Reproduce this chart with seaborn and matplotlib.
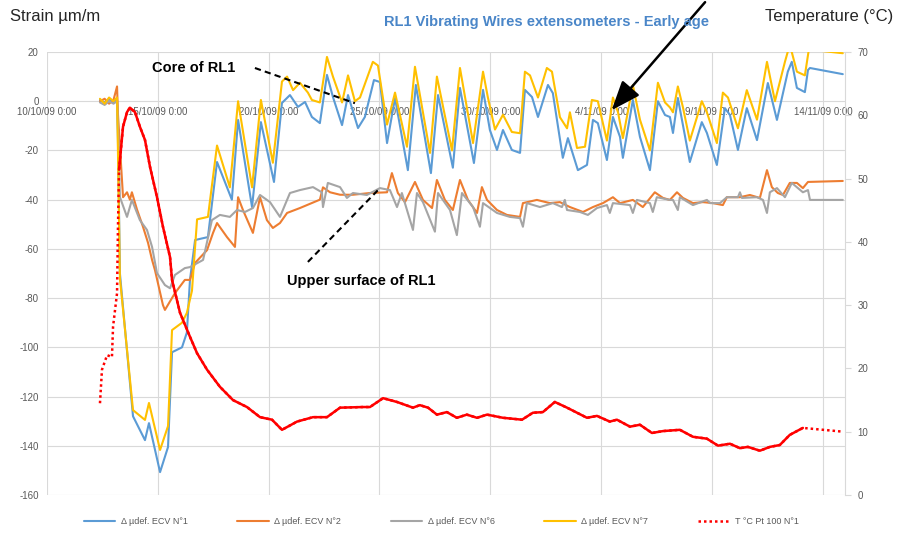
import matplotlib
matplotlib.use("Agg")
import matplotlib.dates as mdates
import matplotlib.pyplot as plt
import numpy as np
import pandas as pd
import seaborn as sns
from matplotlib.ticker import FuncFormatter

START = pd.Timestamp("2009-10-10")

# (days since 10/10/09 0:00, strain in um/m)
ecv1 = [(2.39, 0.5), (2.6, -0.5), (2.8, 0.8), (3.0, -0.5), (3.16, 0.5), (3.2, -15), (3.29, -70),
        (3.88, -128), (4.42, -137.7), (4.60, -130.8), (5.10, -150.7), (5.46, -140.5), (5.64, -102),
        (6.09, -100), (6.31, -94), (6.45, -72.6), (6.68, -56.4), (7.26, -55.2), (7.67, -24.7),
        (8.34, -40), (8.62, -7.6), (9.25, -43), (9.65, -8.5), (10.24, -32.8), (10.60, -0.7),
        (10.96, 2.5), (11.32, -2.3), (11.64, -0.3), (11.95, -6.4), (12.31, -8.9), (12.63, 10.7),
        (12.90, 1.7), (13.31, -9.7), (13.58, 2.5), (14.03, -10.9), (14.34, -6.4), (14.75, 8.6),
        (15.02, 7.8), (15.34, -17), (15.70, 1.3), (16.28, -28), (16.64, 6.6), (17.32, -29.2),
        (17.64, 2.5), (18.31, -27), (18.63, 5.4), (19.26, -25.1), (19.67, 4.6), (19.98, -11.7),
        (20.30, -19.8), (20.57, -11.7), (20.97, -19.8), (21.34, -21), (21.56, 4.6), (21.88, 1.7),
        (22.15, -6.4), (22.60, 6.6), (22.82, 3.3), (23.27, -23), (23.50, -15), (23.95, -28),
        (24.36, -25.9), (24.63, -7.6), (24.85, -8.9), (25.26, -23.9), (25.53, -6.4), (25.85, -14.5),
        (25.98, -23), (26.43, 0.5), (26.75, -14.5), (27.20, -28), (27.56, 0), (27.88, -5.6),
        (28.10, -6.4), (28.24, -12.9), (28.46, 1.3), (29.00, -24.7), (29.54, -8.5), (29.77, -12.9),
        (30.22, -25.9), (30.58, -2.8), (30.81, -5.6), (31.17, -19.8), (31.57, -2.8), (32.03, -15.8),
        (32.52, 7.4), (32.93, -7.6), (33.42, 12), (33.60, 16), (33.83, 5.4), (34.19, 3.7),
        (34.33, 12.7), (34.42, 13.5), (35.90, 11)]

ecv2 = [(2.39, 0), (2.6, 1), (2.8, -1), (3.0, 0.5), (3.16, 6), (3.20, -5), (3.43, -39), (3.61, -37),
        (3.74, -40), (3.83, -37), (4.06, -44), (4.33, -51), (4.56, -57.6), (4.74, -64.5), (4.87, -68.6),
        (5.23, -82.8), (5.32, -84.8), (5.77, -78), (6.22, -72.6), (6.45, -72.6), (6.68, -65.7),
        (7.22, -60.5), (7.49, -53.5), (7.67, -49.5), (8.12, -55.2), (8.48, -59.2), (8.62, -39),
        (8.84, -44.2), (9.29, -53.5), (9.61, -39), (9.92, -48.3), (10.19, -51.5), (10.51, -49.5),
        (10.83, -45.4), (11.41, -43.4), (12.31, -40), (12.45, -35), (12.77, -37), (13.22, -38),
        (13.80, -38), (14.57, -37.3), (15.34, -37), (15.56, -29.2), (15.83, -37.3), (16.15, -41),
        (16.60, -32.8), (16.96, -40.1), (17.37, -43.4), (17.59, -32), (17.95, -40.1), (18.31, -44.2),
        (18.63, -32), (18.99, -40.1), (19.40, -45.4), (19.62, -34.9), (19.85, -40.1), (20.30, -44.2),
        (20.75, -46.2), (21.34, -47), (21.47, -41.4), (22.10, -40.1), (22.69, -41.4), (23.14, -41),
        (23.59, -43), (24.18, -45), (24.63, -43), (25.08, -41.4), (25.53, -39), (25.85, -41.4),
        (26.43, -40.1), (26.88, -43), (27.42, -37), (27.79, -39.3), (28.10, -40.1), (28.42, -37),
        (28.69, -39.3), (29.14, -41.4), (29.59, -41), (30.04, -41.4), (30.49, -42.2), (30.67, -39),
        (31.26, -39), (31.71, -38.1), (32.16, -39.3), (32.48, -28), (32.70, -34.9), (32.97, -37.3),
        (33.20, -38.1), (33.51, -33.2), (33.83, -33.2), (34.10, -35.3), (34.33, -32.8), (35.90, -32.4)]

ecv6 = [(2.39, -0.5), (2.6, -1.5), (2.8, 0), (3.0, -1), (3.16, 0), (3.2, -10), (3.29, -39), (3.61, -47),
        (3.83, -40.1), (4.19, -48.3), (4.51, -52.3), (4.74, -59.2), (4.96, -69.8), (5.32, -74.7),
        (5.55, -76), (5.77, -70.6), (6.22, -67.8), (6.45, -67.4), (7.04, -64.5), (7.44, -48.3),
        (7.80, -46.2), (8.25, -47), (8.57, -44.2), (8.93, -45), (9.29, -43.4), (9.61, -38.1),
        (10.06, -41), (10.51, -47), (10.96, -37.3), (11.41, -36.1), (12.00, -34.9), (12.40, -37),
        (12.45, -43), (12.67, -33.2), (13.22, -34.9), (13.53, -39.3), (13.80, -37.3), (14.43, -38.1),
        (15.02, -35.3), (15.47, -36.1), (15.79, -43), (16.01, -37.3), (16.51, -52.3), (16.69, -37.3),
        (16.96, -41), (17.50, -53), (17.64, -37.3), (18.18, -44.2), (18.49, -54.4), (18.72, -37.3),
        (19.22, -43), (19.53, -51), (19.67, -41.4), (20.30, -45.4), (20.88, -47), (21.34, -47.5),
        (21.47, -51), (21.65, -41.4), (22.24, -43), (22.82, -41.4), (23.23, -43), (23.36, -40.1),
        (23.46, -44.2), (24.04, -45), (24.40, -46.2), (24.81, -43.4), (25.26, -42.2), (25.39, -45.4),
        (25.53, -41.4), (26.30, -42.2), (26.43, -45.4), (26.61, -40.1), (27.20, -41.4), (27.33, -45),
        (27.51, -39), (28.10, -40.1), (28.24, -40.1), (28.46, -44.2), (28.55, -39), (29.14, -42.2),
        (29.77, -40.1), (29.91, -41.4), (30.36, -41.4), (30.67, -39), (31.17, -39), (31.26, -37),
        (31.35, -39.3), (32.03, -39), (32.30, -40.1), (32.48, -45.4), (32.61, -37), (32.93, -35.3),
        (33.29, -39), (33.60, -33.2), (34.10, -37), (34.33, -36.1), (34.42, -40.1), (35.90, -40.1)]

ecv7 = [(2.39, 1), (2.6, -1), (2.8, 1.5), (3.0, 0), (3.16, 1.5), (3.2, -20), (3.29, -72), (3.88, -125.5),
        (4.42, -129.5), (4.60, -122.6), (5.10, -141.7), (5.46, -132), (5.64, -93), (6.09, -90),
        (6.31, -86), (6.54, -77), (6.77, -48), (7.26, -47), (7.67, -18), (8.25, -35), (8.62, 0),
        (9.25, -35), (9.65, 0.5), (10.19, -25), (10.60, 8), (10.83, 10), (11.10, 4.5), (11.41, 7.5),
        (11.77, 3.5), (11.95, 0.5), (12.31, -0.5), (12.63, 18), (12.90, 10), (13.31, -0.5),
        (13.58, 10.5), (13.89, 0), (14.12, 1.5), (14.70, 16), (14.93, 14.5), (15.34, -9.5),
        (15.70, 3.5), (16.24, -18.5), (16.60, 14), (17.28, -21), (17.59, 10), (18.27, -20),
        (18.63, 13.5), (19.22, -17), (19.67, 12), (19.89, 1.5), (20.21, -11.5), (20.57, -5.5),
        (20.97, -12.5), (21.34, -13), (21.56, 12), (21.79, 10.5), (22.15, 1.5), (22.55, 13.5),
        (22.78, 12), (23.14, -6.5), (23.46, -11), (23.59, -4.5), (23.91, -19), (24.27, -18.5),
        (24.58, 0.5), (24.85, 0), (25.26, -16), (25.53, 1.5), (25.76, -4.5), (25.98, -15),
        (26.43, 6.5), (26.75, -7.5), (27.20, -20), (27.56, 7.5), (27.88, -0.5), (28.10, -2.5),
        (28.24, -4.5), (28.46, 6), (28.69, -2.5), (29.00, -16), (29.54, 0), (29.77, -4.5),
        (30.22, -17), (30.49, 3.5), (30.72, 1.5), (31.17, -11), (31.57, 4.5), (32.03, -7.5),
        (32.48, 16), (32.84, 0), (33.29, 16), (33.51, 23), (33.83, 12), (34.19, 10.5), (34.42, 24),
        (34.51, 21), (34.87, 20.5), (35.90, 19.5)]

# (days since 10/10/09 0:00, temperature in degC) - right axis
temp_pt100 = [(2.39, 14.5), (2.48, 19.8), (2.71, 22.1), (2.93, 21.8), (2.98, 26.6), (3.16, 31.9),
              (3.20, 42), (3.25, 51.4), (3.43, 58.2), (3.61, 60.5), (3.74, 61.2), (3.97, 60.5),
              (4.19, 58.2), (4.42, 56.1), (4.65, 51.8), (4.96, 47.1), (5.23, 42.4), (5.55, 37.6),
              (5.64, 34), (6.00, 28.8), (6.45, 25), (6.77, 22.4), (7.22, 19.8), (7.80, 17.1),
              (8.39, 15), (9.02, 13.9), (9.61, 12.3), (10.15, 11.9), (10.60, 10.3), (11.28, 11.6),
              (12.00, 12.3), (12.63, 12.3), (13.22, 13.8), (14.25, 13.9), (14.57, 13.9), (15.16, 15.3),
              (15.79, 14.7), (16.51, 13.8), (16.82, 14.2), (17.19, 13.8), (17.59, 12.7), (18.04, 13.1),
              (18.49, 12.2), (18.94, 12.7), (19.40, 12.2), (19.85, 12.7), (20.57, 12.2), (21.43, 11.9),
              (21.92, 13), (22.37, 13.1), (22.91, 14.7), (23.46, 13.8), (24.36, 12.2), (24.81, 12.5),
              (25.39, 11.6), (25.71, 11.9), (26.30, 10.8), (26.75, 11.1), (27.29, 9.8), (27.79, 10.1),
              (28.55, 10.3), (29.14, 9.2), (29.77, 8.9), (30.27, 7.8), (30.81, 8.1), (31.26, 7.4),
              (31.62, 7.6), (32.16, 7.0), (32.61, 7.6), (33.06, 7.9), (33.51, 9.5), (34.10, 10.6),
              (35.63, 10.1), (35.90, 10.0)]
TEMP_DENSE = (3.25, 34.10)  # range where the logger recorded densely (drawn solid)

STRAIN_SERIES = [
    ("Δ µdef. ECV N°1", ecv1, "#5b9bd5"),
    ("Δ µdef. ECV N°2", ecv2, "#ed7d31"),
    ("Δ µdef. ECV N°6", ecv6, "#a5a5a5"),
    ("Δ µdef. ECV N°7", ecv7, "#ffc000"),
]
TEMP_LABEL = "T °C Pt 100 N°1"
X_TICKS = pd.date_range(START, periods=8, freq="5D")
GREY = "#595959"
GRID = "#d9d9d9"


def to_frame(points, value):
    df = pd.DataFrame(points, columns=["day", value])
    df["time"] = START + pd.to_timedelta(df["day"], unit="D")
    return df


def xnum(day):
    return mdates.date2num(START + pd.Timedelta(days=day))


def date_label(v, pos):
    d = mdates.num2date(v)
    return f"{d.day}/{d.month}/{d.year % 100:02d} 0:00"


def main():
    sns.set_style("white")
    plt.rcParams["font.family"] = ["Liberation Sans", "DejaVu Sans"]
    plt.rcParams["axes.unicode_minus"] = False

    fig = plt.figure(figsize=(9.06, 5.37), dpi=100)
    ax = fig.add_axes([47 / 906, 1 - 495 / 537, 798 / 906, 443 / 537])

    for label, pts, color in STRAIN_SERIES:
        sns.lineplot(data=to_frame(pts, "strain"), x="time", y="strain", color=color, lw=1.5,
                     estimator=None, label=label, ax=ax)

    ax.set_xlim(START, START + pd.Timedelta(days=36))
    ax.set_ylim(-160, 20)
    ax.set_yticks(range(-160, 21, 20))
    ax.set_xticks(mdates.date2num(X_TICKS.to_pydatetime()))
    ax.xaxis.set_major_formatter(FuncFormatter(date_label))
    ax.spines["bottom"].set_position(("data", 0))
    for sp in ax.spines.values():
        sp.set_visible(False)
    ax.tick_params(axis="x", length=0, pad=4, labelsize=7, labelcolor=GREY)
    ax.tick_params(axis="y", length=0, pad=6, labelsize=7, labelcolor=GREY)
    ax.grid(True, color=GRID, lw=0.8)
    ax.set_axisbelow(True)
    ax.set_xlabel("")
    ax.set_ylabel("")

    ax2 = ax.twinx()
    temp = to_frame(temp_pt100, "temp")
    sns.lineplot(data=temp, x="time", y="temp", color="#ff0000", lw=1.8, ls=(0, (1, 1.2)),
                 estimator=None, label=TEMP_LABEL, ax=ax2)
    dense = temp[(temp["day"] >= TEMP_DENSE[0]) & (temp["day"] <= TEMP_DENSE[1])]
    sns.lineplot(data=dense, x="time", y="temp", color="#ff0000", lw=1.8, estimator=None, ax=ax2)
    ax2.set_ylim(0, 70)
    ax2.set_yticks(range(0, 71, 10))
    for name, sp in ax2.spines.items():
        sp.set_visible(name == "right")
    ax2.spines["right"].set_color(GRID)
    ax2.tick_params(axis="y", length=4, color=GRID, pad=5, labelsize=7, labelcolor=GREY)
    ax2.set_ylabel("")
    ax2.grid(False)

    for a in (ax, ax2):
        if a.get_legend() is not None:
            a.get_legend().remove()

    # annotations
    ax.text(xnum(6.63), 13.5, "Core of RL1", ha="center", va="center", fontsize=10.5,
            fontweight="bold", color="black", zorder=5)
    ax.plot([xnum(9.38), xnum(13.89)], [13.5, -0.8], color="black", lw=1.5, ls=(0, (3, 2)), zorder=5)
    ax.text(xnum(14.16), -73.1, "Upper surface of RL1", ha="center", va="center", fontsize=10.5,
            fontweight="bold", color="black", zorder=5)
    ax.plot([xnum(11.77), xnum(15.02)], [-65.3, -35.3], color="black", lw=1.5, ls=(0, (3, 2)), zorder=5)
    arrow = ax.annotate("", xy=(xnum(25.39), -4.5), xytext=(xnum(29.77), 41.1),
                        arrowprops=dict(arrowstyle="-|>,head_length=0.9,head_width=0.35", lw=1.8,
                                        color="black", mutation_scale=20),
                        annotation_clip=False, zorder=6)
    arrow.arrow_patch.set_clip_on(False)

    fig.text(10 / 906, 1 - 16 / 537, "Strain µm/m", ha="left", va="center", fontsize=12)
    fig.text(765 / 906, 1 - 16 / 537, "Temperature (°C)", ha="left", va="center", fontsize=12)
    fig.text(546 / 906, 1 - 22 / 537, "RL1 Vibrating Wires extensometers - Early age", ha="center",
             va="center", fontsize=10.5, fontweight="bold", color="#4a86c8")

    h1, l1 = ax.get_legend_handles_labels()
    h2, l2 = ax2.get_legend_handles_labels()
    handles = [h for h, l in zip(h1 + h2, l1 + l2) if not l.startswith("_")]
    labels = [l for l in l1 + l2 if not l.startswith("_")]
    fig.legend(handles, labels, loc="center", bbox_to_anchor=(0.487, 0.028), ncol=5, frameon=False,
               fontsize=6.5, labelcolor=GREY, handlelength=3.5, handletextpad=0.6, columnspacing=5.5)

    fig.savefig("out.png", dpi=100)
    plt.close(fig)


if __name__ == "__main__":
    main()
